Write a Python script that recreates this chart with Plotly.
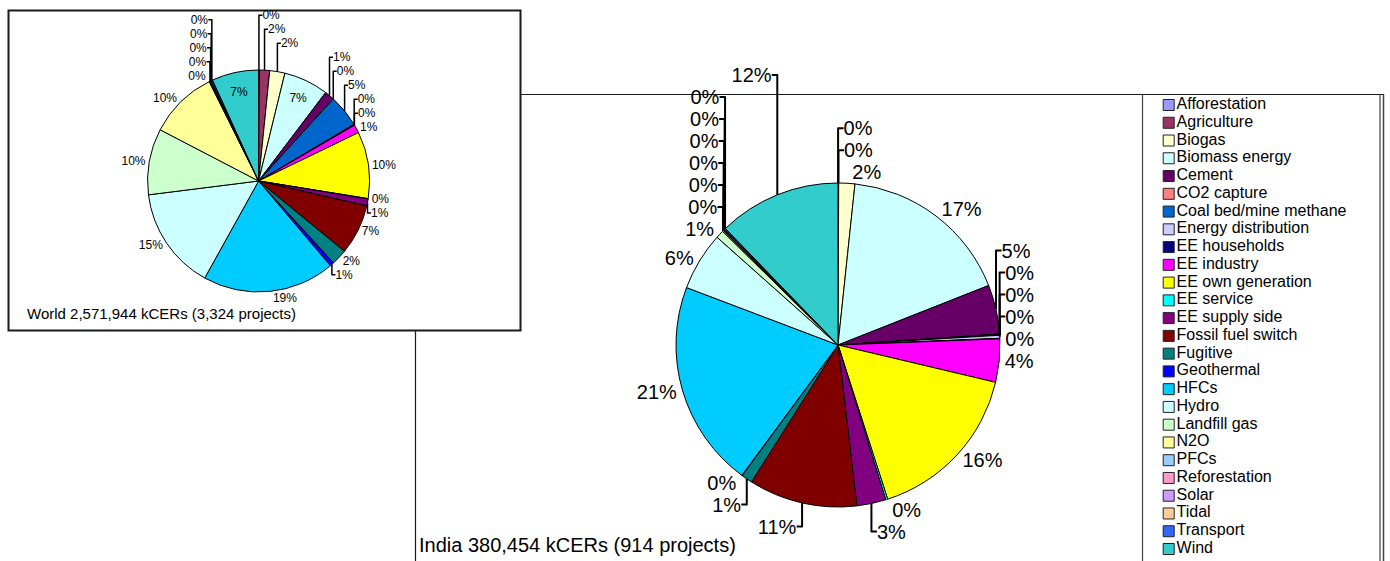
import plotly.graph_objects as go

# ---------------- data ----------------
categories = ["Afforestation", "Agriculture", "Biogas", "Biomass energy", "Cement",
              "CO2 capture", "Coal bed/mine methane", "Energy distribution", "EE households",
              "EE industry", "EE own generation", "EE service", "EE supply side",
              "Fossil fuel switch", "Fugitive", "Geothermal", "HFCs", "Hydro", "Landfill gas",
              "N2O", "PFCs", "Reforestation", "Solar", "Tidal", "Transport", "Wind"]

colors = ["#9999FF", "#993366", "#FFFFCC", "#CCFFFF", "#660066",
          "#FF8080", "#0066CC", "#CCCCFF", "#000080",
          "#FF00FF", "#FFFF00", "#00FFFF", "#800080",
          "#800000", "#008080", "#0000FF", "#00CCFF", "#CCFFFF", "#CCFFCC",
          "#FFFF99", "#99CCFF", "#FF99CC", "#CC99FF", "#FFCC99", "#3366FF", "#33CCCC"]

# share of kCERs (%)
world_share = [0.10, 1.5, 2.2, 6.5, 1.4,
               0.02, 4.7, 0.10, 0.05,
               1.2, 9.7, 0.05, 1.0,
               7.3, 2.3, 0.6, 19.2, 14.9, 9.6,
               10.0, 0.10, 0.05, 0.15, 0.02, 0.20, 6.8]

india_share = [0.02, 0.05, 1.6, 17.3, 4.9,
               0.02, 0.10, 0.30, 0.05,
               4.3, 16.3, 0.20, 2.9,
               10.8, 1.1, 0.05, 20.6, 5.8, 0.8,
               0.10, 0.02, 0.05, 0.10, 0.02, 0.10, 12.2]

world_title = "World 2,571,944 kCERs (3,324 projects)"
india_title = "India 380,454 kCERs (914 projects)"

# ---------------- layout helpers ----------------
W, H = 1390, 561
FONT = "Arial, 'Liberation Sans', sans-serif"


def px_x(x):
    return x / W


def px_y(y):
    return 1 - y / H


def pie_domain(cx, cy, r):
    return dict(x=[px_x(cx - r), px_x(cx + r)], y=[px_y(cy + r), px_y(cy - r)])


# in the small pie, two labels sit inside their slices so the stacked
# outside labels stay within the page
world_inside = {"Biomass energy", "Wind"}
world_textpos = ["inside" if c in world_inside else "outside" for c in categories]

fig = go.Figure()

fig.add_trace(go.Pie(
    labels=categories, values=world_share,
    marker=dict(colors=colors, line=dict(color="black", width=1)),
    sort=False, direction="clockwise", rotation=0,
    textposition=world_textpos, texttemplate="%{percent:.0%}",
    insidetextorientation="horizontal",
    textfont=dict(family=FONT, size=12, color="black"),
    insidetextfont=dict(family=FONT, size=12, color="black"),
    outsidetextfont=dict(family=FONT, size=12, color="black"),
    domain=pie_domain(258.6, 181, 111),
    showlegend=False, hoverinfo="label+percent", automargin=False,
))

fig.add_trace(go.Pie(
    labels=categories, values=india_share,
    marker=dict(colors=colors, line=dict(color="black", width=1)),
    sort=False, direction="clockwise", rotation=0,
    textposition="outside", texttemplate="%{percent:.0%}",
    textfont=dict(family=FONT, size=20, color="black"),
    outsidetextfont=dict(family=FONT, size=20, color="black"),
    domain=pie_domain(838, 345, 162),
    showlegend=False, hoverinfo="label+percent", automargin=False,
))

# legend drawn as a categorical scatter
fig.add_trace(go.Scatter(
    x=[0] * len(categories), y=categories,
    mode="markers+text", text=categories, textposition="middle right",
    marker=dict(symbol="square", size=11, color=colors, line=dict(color="#222222", width=1)),
    textfont=dict(family=FONT, size=16, color="black"),
    xaxis="x", yaxis="y", showlegend=False, hoverinfo="skip", cliponaxis=False,
))

leg_left, leg_right = 1143, 1380
unit = 25.7
item_top, item_bottom = 105, 549
step = (item_bottom - item_top) / (len(categories) - 1)

line_col = "#1a1a1a"
shapes = [
    # India chart frame
    dict(type="line", xref="paper", yref="paper", x0=px_x(415.5), x1=px_x(1384), y0=px_y(94.5), y1=px_y(94.5),
         line=dict(color=line_col, width=1.2), layer="below"),
    dict(type="line", xref="paper", yref="paper", x0=px_x(415.5), x1=px_x(415.5), y0=px_y(94.5), y1=0,
         line=dict(color=line_col, width=1.2), layer="below"),
    dict(type="line", xref="paper", yref="paper", x0=px_x(1383.5), x1=px_x(1383.5), y0=px_y(94.5), y1=0,
         line=dict(color="#444444", width=1.5), layer="below"),
    # legend box
    dict(type="line", xref="paper", yref="paper", x0=px_x(1142.5), x1=px_x(1142.5), y0=px_y(94.5), y1=0,
         line=dict(color="#444444", width=1.2), layer="below"),
    dict(type="line", xref="paper", yref="paper", x0=px_x(1380), x1=px_x(1380), y0=px_y(94.5), y1=0,
         line=dict(color="#444444", width=1.2), layer="below"),
    # World chart box
    dict(type="rect", xref="paper", yref="paper", x0=px_x(8.5), x1=px_x(520.5), y0=px_y(330.5), y1=px_y(10.5),
         line=dict(color=line_col, width=2), fillcolor="white", layer="below"),
]

annotations = [
    dict(text=world_title, xref="paper", yref="paper", x=px_x(25), y=px_y(313),
         xanchor="left", yanchor="middle", showarrow=False,
         font=dict(family=FONT, size=15, color="black")),
    dict(text=india_title, xref="paper", yref="paper", x=px_x(417), y=px_y(545),
         xanchor="left", yanchor="middle", showarrow=False,
         font=dict(family=FONT, size=20, color="black")),
]

fig.update_layout(
    width=W, height=H,
    margin=dict(l=0, r=0, t=0, b=0, pad=0, autoexpand=False),
    paper_bgcolor="white", plot_bgcolor="rgba(0,0,0,0)",
    showlegend=False,
    xaxis=dict(domain=[px_x(leg_left), px_x(leg_right)],
               range=[-1, (leg_right - leg_left) / unit - 1],
               visible=False, fixedrange=True),
    yaxis=dict(domain=[px_y(item_bottom + step / 2), px_y(item_top - step / 2)],
               type="category", categoryorder="array", categoryarray=categories,
               range=[len(categories) - 0.5, -0.5], visible=False, fixedrange=True),
    shapes=shapes,
    annotations=annotations,
)

fig.write_html("out.html")
